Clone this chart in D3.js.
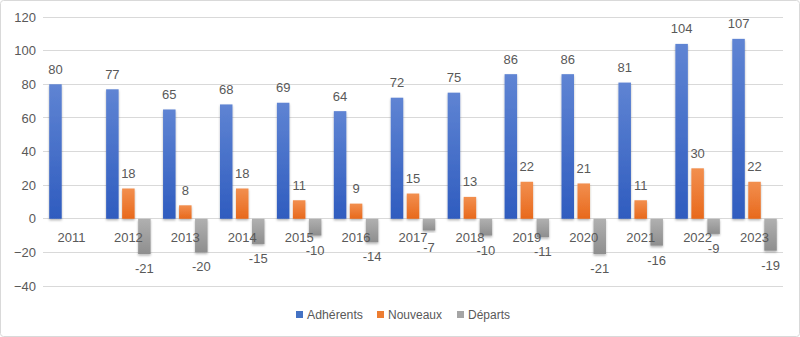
<!DOCTYPE html>
<html><head><meta charset="utf-8">
<script src="https://cdn.jsdelivr.net/npm/d3@7"></script>
<style>body{margin:0;background:#fff}svg{display:block}</style>
</head><body>
<svg id="c" width="800" height="337"></svg>
<script>
const years = ["2011","2012","2013","2014","2015","2016","2017","2018","2019","2020","2021","2022","2023"];
const adherents = [80,77,65,68,69,64,72,75,86,86,81,104,107];
const nouveaux = [null,18,8,18,11,9,15,13,22,21,11,30,22];
const departs = [null,-21,-20,-15,-10,-14,-7,-10,-11,-21,-16,-9,-19];
const seriesNames = ["Adhérents","Nouveaux","Départs"];
const yTicks = [-40,-20,0,20,40,60,80,100,120];

const svg = d3.select("#c");
const W = 800, H = 337;
const m = {l:43, r:17, t:17, b:51};
const font = "'Liberation Sans', Arial, sans-serif";
const txt = "#595959";

svg.append("rect").attr("x",0.5).attr("y",0.5).attr("width",W-1).attr("height",H-1)
  .attr("rx",3).attr("fill","#fff").attr("stroke","#d9d9d9");

const defs = svg.append("defs");
const grads = [["gA","#5f84d3","#2f5cbf"],["gN","#f28f4f","#e8691c"],["gD","#b0b0b0","#8e8e8e"]];
grads.forEach(([id,c1,c2])=>{
  const g = defs.append("linearGradient").attr("id",id).attr("x1",0).attr("y1",0).attr("x2",0).attr("y2",1);
  g.append("stop").attr("offset","0%").attr("stop-color",c1);
  g.append("stop").attr("offset","100%").attr("stop-color",c2);
});
const f = defs.append("filter").attr("id","sh").attr("x","-30%").attr("y","-10%").attr("width","160%").attr("height","130%");
f.append("feDropShadow").attr("dx",0).attr("dy",1.5).attr("stdDeviation",1.2).attr("flood-color","#000").attr("flood-opacity",0.3);

const x = d3.scaleBand().domain(years).range([m.l, W-m.r]);
const y = d3.scaleLinear().domain([-40,120]).range([286, 17]);

// gridlines
svg.append("g").selectAll("line").data(yTicks).join("line")
  .attr("x1",m.l).attr("x2",W-m.r).attr("y1",d=>y(d)).attr("y2",d=>y(d))
  .attr("stroke","#d9d9d9").attr("stroke-width",1).attr("shape-rendering","crispEdges");

// y axis labels
const yAxis = d3.axisLeft(y).tickValues(yTicks).tickSize(0).tickPadding(0);
const ga = svg.append("g").attr("transform",`translate(${m.l-7},0)`).call(yAxis);
ga.select(".domain").remove();
ga.selectAll("text").attr("font-family",font).attr("font-size",13).attr("fill",txt);

const bw = 12.5, step = 16;
const offsets = [-step, 0, step];
const data = [adherents, nouveaux, departs];
const fills = ["url(#gA)","url(#gN)","url(#gD)"];

data.forEach((arr,si)=>{
  const g = svg.append("g");
  const pts = years.map((yr,i)=>({yr, v:arr[i]})).filter(d=>d.v!==null);
  g.selectAll("rect").data(pts).join("rect")
    .attr("x",d=>x(d.yr)+x.bandwidth()/2+offsets[si]-bw/2)
    .attr("width",bw)
    .attr("y",d=>y(Math.max(0,d.v)))
    .attr("height",d=>Math.abs(y(d.v)-y(0)))
    .attr("fill",fills[si]).attr("filter","url(#sh)");
  g.selectAll("text").data(pts).join("text")
    .attr("x",d=>x(d.yr)+x.bandwidth()/2+offsets[si])
    .attr("y",d=> d.v>=0 ? y(d.v)-10.5 : Math.max(y(d.v)+19, y(0)+33))
    .attr("text-anchor","middle").attr("font-family",font).attr("font-size",13).attr("fill",txt)
    .text(d=>d.v);
});

// category labels
svg.append("g").selectAll("text").data(years).join("text")
  .attr("x",d=>x(d)+x.bandwidth()/2).attr("y",y(0)+23)
  .attr("text-anchor","middle").attr("font-family",font).attr("font-size",13).attr("fill",txt)
  .text(d=>d);

// legend
const legColors = ["#4472c4","#ed7d31","#a5a5a5"];
const lg = svg.append("g");
const legX = [296, 377, 457];
seriesNames.forEach((n,i)=>{
  lg.append("rect").attr("x",legX[i]).attr("y",311).attr("width",7).attr("height",7).attr("fill",legColors[i]);
  lg.append("text").attr("x",legX[i]+11).attr("y",319).attr("font-family",font).attr("font-size",12.5)
    .attr("textLength", [56,54,42][i]).attr("lengthAdjust","spacingAndGlyphs")
    .attr("fill",txt).text(n);
});
</script>
</body></html>
